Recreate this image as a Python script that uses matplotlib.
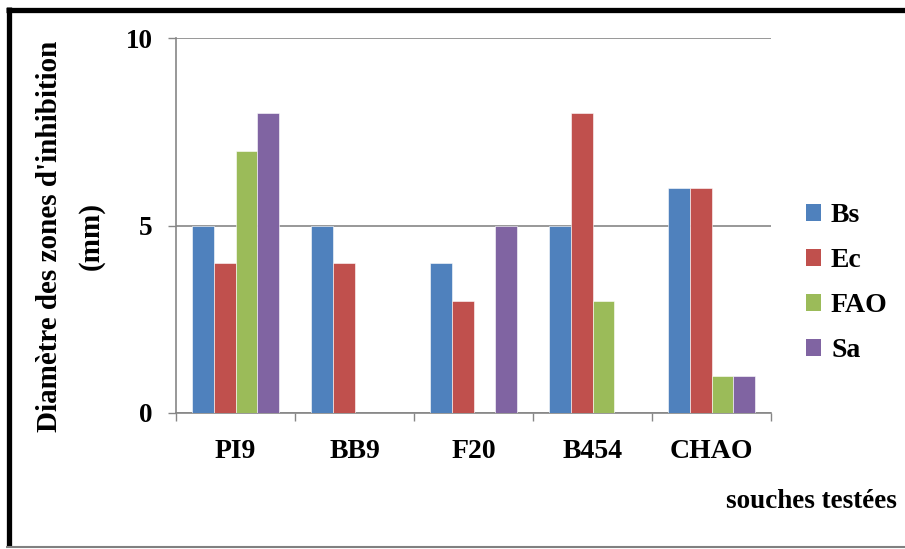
import matplotlib
matplotlib.use("Agg")
import matplotlib.pyplot as plt
import numpy as np
from matplotlib.patches import Rectangle
from matplotlib.lines import Line2D

categories = ["PI9", "BB9", "F20", "B454", "CHAO"]
series_names = ["Bs", "Ec", "FAO", "Sa"]
bs = [5, 5, 4, 5, 6]
ec = [4, 4, 3, 8, 6]
fao = [7, 0, 0, 3, 1]
sa = [8, 0, 5, 0, 1]
colors = ["#4F81BD", "#C0504D", "#9BBB59", "#8064A2"]

plt.rcParams['font.family'] = ['Liberation Serif', 'DejaVu Serif']
plt.rcParams['font.weight'] = 'bold'

fig = plt.figure(figsize=(9.05, 5.49), dpi=100)
ax = fig.add_axes([176/905, 1-413/549, (771-176)/905, (413-38)/549])

x = np.arange(len(categories))
w = 1/5.5
for i, vals in enumerate([bs, ec, fao, sa]):
    ax.bar(x + (i - 1.5) * w, vals, width=w, color=colors[i],
           edgecolor='white', linewidth=0.4, label=series_names[i], zorder=3)

ax.set_xlim(-0.5, len(categories) - 0.5)
ax.set_ylim(0, 10)
ax.set_yticks([0, 5, 10])
ax.set_xticks(x)
ax.set_xticklabels(categories, fontsize=20, fontweight='bold')
ax.set_yticklabels(["0", "5", "10"], fontsize=19.5, fontweight='bold')
ax.set_xticks(np.arange(len(categories) + 1) - 0.5, minor=True)
ax.tick_params(axis='x', which='major', length=0, pad=19)
ax.tick_params(axis='x', which='minor', length=6, color='#868686', width=1)
ax.tick_params(axis='y', length=6, color='#868686', width=1, pad=11)

ax.grid(axis='y', color='#868686', linewidth=1.2, zorder=0)
for s in ['top', 'right']:
    ax.spines[s].set_visible(False)
for s in ['left', 'bottom']:
    ax.spines[s].set_color('#868686')
    ax.spines[s].set_linewidth(1.2)

fig.text(50/905, 1-236/549, "Diamètre des zones d'inhibition", rotation=90,
         ha='center', va='center', fontsize=21, fontweight='bold')
fig.text(91/905, 1-236/549, "(mm)", rotation=90,
         ha='center', va='center', fontsize=21, fontweight='bold')

fig.text(897/905, 1-502/549, "souches testées", ha='right', va='center',
         fontsize=19.5, fontweight='bold')

handles = [Rectangle((0, 0), 1, 1, facecolor=c) for c in colors]
leg = fig.legend(handles, series_names, loc='upper left',
                 bbox_to_anchor=(781/905, 1-178/549), frameon=False,
                 prop={'family': 'Liberation Serif', 'weight': 'bold', 'size': 20},
                 handlelength=0.55, handleheight=0.55, handletextpad=0.35,
                 labelspacing=0.72)

# frame border
fig.add_artist(Line2D([6/905, 1], [1-9.5/549, 1-9.5/549], color='black', linewidth=3.8,
                      transform=fig.transFigure, solid_capstyle='butt'))
fig.add_artist(Line2D([8.5/905, 8.5/905], [1-7/549, 1-547/549], color='black', linewidth=3.8,
                      transform=fig.transFigure, solid_capstyle='butt'))
fig.add_artist(Line2D([6/905, 1], [1-547/549, 1-547/549], color='#808080', linewidth=1.5,
                      transform=fig.transFigure, solid_capstyle='butt'))

fig.savefig("out.png", dpi=100)
